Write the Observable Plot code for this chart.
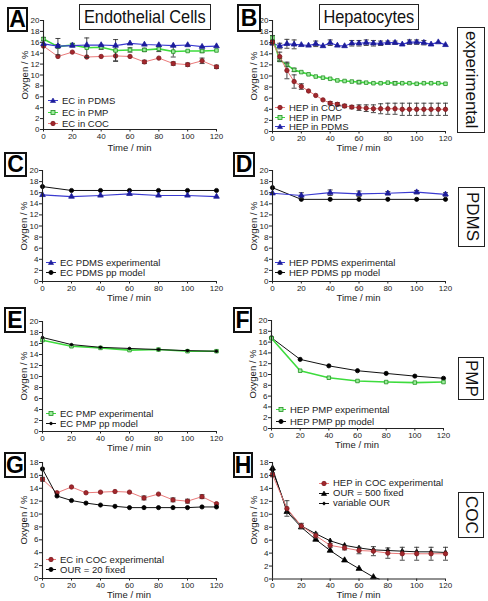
<!DOCTYPE html>
<html><head><meta charset="utf-8">
<script src="https://cdn.jsdelivr.net/npm/d3@7"></script>
<script src="https://cdn.jsdelivr.net/npm/@observablehq/plot@0.6"></script>
<style>
html,body{margin:0;padding:0;background:#fff;}
body{font-family:"Liberation Sans",Arial,Helvetica,sans-serif;color:#222;}
#root{position:relative;width:488px;height:601px;overflow:hidden;background:#fff;}
.letter{position:absolute;box-sizing:border-box;border:2px solid #111;font-weight:bold;font-size:23px;display:flex;align-items:center;justify-content:center;line-height:1;color:#000;}
.title{position:absolute;box-sizing:border-box;border:1.5px solid #222;font-size:19px;display:flex;align-items:center;justify-content:center;white-space:nowrap;color:#111;}
.title span{display:inline-block;transform:scaleX(0.86);}
.vtitle{position:absolute;box-sizing:border-box;border:1.5px solid #222;font-size:17px;display:flex;align-items:center;justify-content:center;white-space:nowrap;writing-mode:vertical-rl;color:#111;}
.axt{position:absolute;font-size:9.5px;line-height:1;white-space:nowrap;color:#222;transform:translate(-50%,-50%);}
.axt.rot{transform:translate(-50%,-50%) rotate(-90deg);}
.leg{position:absolute;font-size:9.5px;white-space:nowrap;color:#222;line-height:1;}
.leg div{display:flex;align-items:center;}
.leg svg{margin-right:3px;}
</style>
</head><body><div id="root"></div>
<script>
// ---------------- DATA ----------------
// Panel A (Endothelial cells, experimental)
const tA = [0,10,20,30,40,50,60,70,80,90,100,110,120];
const ecPDMS = [15.7,15.3,15.4,15.5,15.5,15.4,15.8,15.6,15.5,15.4,15.5,15.2,15.3];
const ecPDMSerr = [0.2,0.3,0.2,0.2,0.2,0.2,0.2,0.2,0.2,0.2,0.2,0.2,0.2];
const ecPMP = [16.6,15.2,15.5,15.0,15.1,14.5,14.6,14.6,14.8,14.3,14.4,14.4,14.5];
const ecPMPerr = [0.3,1.5,0.3,1.8,0.4,2.0,0.4,0.3,0.5,1.0,0.2,0.3,0.2];
const ecCOC = [15.3,13.4,14.2,13.3,13.4,13.5,13.4,12.4,13.1,12.1,11.9,12.6,11.5];
const ecCOCerr = [0.2,0.2,0.2,0.2,0.2,0.9,0.2,0.3,0.2,0.3,0.3,0.5,0.3];

// Panel B (Hepatocytes, experimental)
const tB = [0,5,10,15,20,25,30,35,40,45,50,55,60,65,70,75,80,85,90,95,100,105,110,115,120];
const hepCOC = [16.1,13.5,11.0,9.0,8.1,7.3,6.5,5.7,5.1,4.9,4.6,4.4,4.3,4.2,4.1,4.1,4.1,4.1,4.0,4.0,4.0,4.0,4.0,4.0,4.0];
const hepCOCerr = [0.3,0.8,1.5,1.2,0.5,0.2,0.2,0.2,0.3,0.3,0.3,0.3,0.5,0.6,0.7,0.9,1.0,1.0,1.1,1.1,1.1,1.1,1.1,1.1,1.1];
const hepPMP = [16.9,12.9,12.0,11.1,10.7,10.3,9.9,9.7,9.5,9.2,9.1,9.0,8.9,8.8,8.7,8.7,8.8,8.7,8.7,8.7,8.6,8.7,8.7,8.7,8.6];
const hepPMPerr = [0.4,0.3,0.3,0.3,0.2,0.2,0.2,0.2,0.2,0.2,0.2,0.2,0.3,0.2,0.2,0.2,0.2,0.3,0.2,0.2,0.2,0.2,0.2,0.2,0.2];
const hepPDMS = [15.9,15.4,15.8,15.7,15.6,15.5,15.8,15.4,16.0,15.5,15.4,15.9,15.9,16.0,15.9,15.9,16.0,16.0,15.7,16.1,16.1,16.0,15.7,16.1,15.6];
const hepPDMSerr = [0.3,0.5,0.8,0.8,0.2,0.2,0.5,0.2,0.5,0.2,0.2,0.5,0.5,0.5,0.5,0.4,0.3,0.3,0.2,0.4,0.4,0.4,0.2,0.2,0.2];

// Model comparison panels (C-F), 20-min steps
const tM = [0,20,40,60,80,100,120];
const cExp = [15.6,15.3,15.5,15.8,15.5,15.5,15.3];
const cModel = [17.1,16.4,16.4,16.4,16.4,16.4,16.4];
const dExp = [15.9,15.5,16.0,15.8,15.9,16.1,15.7];
const dExpErr = [0.2,0.5,0.5,0.5,0.3,0.3,0.3];
const dModel = [16.9,14.8,14.8,14.8,14.8,14.8,14.8];
const eExp = [16.6,15.5,15.2,14.8,14.9,14.6,14.6];
const eModel = [17.1,15.8,15.3,15.1,14.9,14.7,14.6];
const fExp = [16.7,10.7,9.4,8.8,8.6,8.5,8.6];
const fModel = [16.8,12.8,11.6,10.7,10.2,9.7,9.3];

// Panel G (EC in COC)
const gExp = [15.4,13.3,14.2,13.3,13.4,13.5,13.4,12.5,13.1,12.2,12.0,12.7,11.6];
const gExpErr = [0.3,0.2,0.2,0.2,0.2,0.2,0.2,0.3,0.2,0.3,0.3,0.3,0.2];
const gModel = [17.0,12.8,12.1,11.7,11.4,11.2,11.0,11.0,11.0,11.0,11.0,11.1,11.1];

// Panel H (HEP in COC)
const hExp = [16.1,10.9,8.2,6.7,5.2,4.8,4.4,4.3,4.0,3.9,3.9,3.9,3.9];
const hExpErr = [0.3,1.2,0.4,0.4,0.3,0.3,0.5,0.7,0.8,1.0,1.0,1.0,1.0];
const tFixed = [0,10,20,30,40,50,60,70,74];
const hFixed = [17.1,10.4,8.0,6.1,4.4,2.9,1.6,0.3,0];
const hVar = [16.8,10.7,8.2,7.0,5.9,5.2,4.8,4.5,4.4,4.3,4.2,4.2,4.1];

const xTicks = [0,20,40,60,80,100,120];

// ---------------- STYLES ----------------
const ST = {
  blue:  {line:"#3a3ad0", lw:1.2, sym:"triangle", r:2.1, fill:"#1c1c9a", stroke:"#1c1c9a"},
  green: {line:"#3ddc3d", lw:1.6, sym:"square", r:2.0, fill:"#9fee9f", stroke:"#1f8f1f"},
  red:   {line:"#ea7a7a", lw:1.0, sym:"circle", r:2.2, fill:"#a3272c", stroke:"#7d1a1f"},
  black: {line:"#111", lw:1.0, sym:"circle", r:2.1, fill:"#000", stroke:"#000"},
  blackSmall: {line:"#111", lw:1.0, sym:"circle", r:1.3, fill:"#000", stroke:"#000"},
  blackTri: {line:"#111", lw:1.0, sym:"triangle", r:2.2, fill:"#000", stroke:"#000"},
  blackDia: {line:"#111", lw:1.0, sym:"diamond", r:1.7, fill:"#000", stroke:"#000"}
};

const capSym = {draw(ctx){ ctx.moveTo(-2.5,0); ctx.lineTo(2.5,0); }};

const root = document.getElementById("root");

function panel(cfg){
  const mL=40, mR=12, mT=6, mB=26;
  const w = mL + (cfg.x1-cfg.x0) + mR;
  const h = mT + (cfg.yb-cfg.yt) + mB;
  const marks = [];
  for (const s of cfg.series){
    const st = ST[s.style];
    const data = s.t.map((t,i)=>({t, v:s.v[i], e: s.e ? s.e[i] : 0}));
    marks.push(Plot.line(data,{x:"t",y:"v",stroke:st.line,strokeWidth:st.lw}));
    if (s.e){
      const eb = data.filter(d=>d.e>=0.25);
      marks.push(Plot.ruleX(eb,{x:"t",y1:d=>d.v-d.e,y2:d=>d.v+d.e,stroke:"#333",strokeWidth:0.9}));
      marks.push(Plot.dot(eb,{x:"t",y:d=>d.v+d.e,symbol:capSym,stroke:"#333",strokeWidth:0.9}));
      marks.push(Plot.dot(eb,{x:"t",y:d=>d.v-d.e,symbol:capSym,stroke:"#333",strokeWidth:0.9}));
    }
    const md = s.markEvery ? data.filter(d=>d.t % s.markEvery === 0) : data;
    marks.push(Plot.dot(md,{x:"t",y:"v",symbol:st.sym,r:st.r,fill:st.fill,stroke:st.stroke,strokeWidth:0.8}));
  }
  marks.push(Plot.ruleY([0],{stroke:"#222",strokeWidth:1.1}));
  marks.push(Plot.ruleX([0],{stroke:"#222",strokeWidth:1.1}));
  marks.push(Plot.axisY({ticks:d3.range(0,cfg.ymax+1,2),tickSize:3,tickPadding:1,fontSize:8,label:null,stroke:"#222"}));
  marks.push(Plot.axisX({ticks:xTicks,tickSize:2.5,tickPadding:1,fontSize:8,label:null,stroke:"#222"}));
  const svg = Plot.plot({
    width:w, height:h, marginLeft:mL, marginRight:mR, marginTop:mT, marginBottom:mB,
    x:{domain:[0,120]}, y:{domain:[0,cfg.ymax]},
    style:{fontFamily:"'Liberation Sans',Arial,sans-serif",color:"#222",background:"transparent",overflow:"visible"},
    marks
  });
  svg.style.position="absolute";
  svg.style.left=(cfg.x0-mL)+"px";
  svg.style.top=(cfg.yt-mT)+"px";
  root.appendChild(svg);
  // axis titles
  const yl=document.createElement("div"); yl.className="axt rot"; yl.textContent="Oxygen / %";
  yl.style.left=(cfg.x0-18)+"px"; yl.style.top=((cfg.yt+cfg.yb)/2)+"px"; root.appendChild(yl);
  const xl=document.createElement("div"); xl.className="axt"; xl.textContent="Time / min";
  xl.style.left=((cfg.x0+cfg.x1)/2)+"px"; xl.style.top=(cfg.yb+cfg.xlab)+"px"; root.appendChild(xl);
  // legend
  const lg=document.createElement("div"); lg.className="leg";
  lg.style.left=cfg.leg[0]+"px"; lg.style.top=cfg.leg[1]+"px";
  for (const it of cfg.legend){
    const st=ST[it.style];
    const row=document.createElement("div");
    row.style.height=cfg.legStep+"px";
    row.innerHTML = symSvg(st) + "<span>"+it.label+"</span>";
    lg.appendChild(row);
  }
  root.appendChild(lg);
}

function symSvg(st){
  let m="";
  if (st.sym==="circle") m=`<circle cx="6" cy="4.5" r="${st.r}" fill="${st.fill}" stroke="${st.stroke}" stroke-width="0.8"/>`;
  else if (st.sym==="square") m=`<rect x="${6-st.r}" y="${4.5-st.r}" width="${2*st.r}" height="${2*st.r}" fill="${st.fill}" stroke="${st.stroke}" stroke-width="0.8"/>`;
  else if (st.sym==="triangle") m=`<path d="M6,2 L8.6,6.5 L3.4,6.5Z" fill="${st.fill}" stroke="${st.stroke}" stroke-width="0.6"/>`;
  else m=`<path d="M6,2.5 L8,4.5 L6,6.5 L4,4.5Z" fill="${st.fill}"/>`;
  return `<svg width="12" height="9" viewBox="0 0 12 9"><line x1="1" y1="4.5" x2="11" y2="4.5" stroke="${st.line}" stroke-width="1"/>${m}</svg>`;
}

const panels = [
  {x0:43,x1:216,yt:20,yb:129,ymax:20,xlab:19,leg:[47,95],legStep:11.5,
   series:[{t:tA,v:ecCOC,e:ecCOCerr,style:"red"},{t:tA,v:ecPMP,e:ecPMPerr,style:"green"},{t:tA,v:ecPDMS,e:ecPDMSerr,style:"blue"}],
   legend:[{label:"EC in PDMS",style:"blue"},{label:"EC in PMP",style:"green"},{label:"EC in COC",style:"red"}]},
  {x0:272,x1:445,yt:20,yb:131,ymax:20,xlab:17,leg:[274,103],legStep:9.5,
   series:[{t:tB,v:hepPDMS,e:hepPDMSerr,style:"blue"},{t:tB,v:hepPMP,e:hepPMPerr,style:"green"},{t:tB,v:hepCOC,e:hepCOCerr,style:"red"}],
   legend:[{label:"HEP in COC",style:"red"},{label:"HEP in PMP",style:"green"},{label:"HEP in PDMS",style:"blue"}]},
  {x0:42,x1:216,yt:170,yb:281,ymax:20,xlab:17,leg:[45,257],legStep:10.5,
   series:[{t:tM,v:cModel,style:"black"},{t:tM,v:cExp,style:"blue"}],
   legend:[{label:"EC PDMS experimental",style:"blue"},{label:"EC PDMS pp model",style:"black"}]},
  {x0:272,x1:445,yt:170,yb:281,ymax:20,xlab:17,leg:[274,257],legStep:10.5,
   series:[{t:tM,v:dModel,style:"black"},{t:tM,v:dExp,e:dExpErr,style:"blue"}],
   legend:[{label:"HEP PDMS experimental",style:"blue"},{label:"HEP PDMS pp model",style:"black"}]},
  {x0:42,x1:216,yt:321,yb:431,ymax:20,xlab:17,leg:[45,408],legStep:10.5,
   series:[{t:tM,v:eExp,style:"green"},{t:tM,v:eModel,style:"blackSmall"}],
   legend:[{label:"EC PMP experimental",style:"green"},{label:"EC PMP pp model",style:"blackSmall"}]},
  {x0:271,x1:443,yt:320,yb:428,ymax:20,xlab:17,leg:[275,404],legStep:11.5,
   series:[{t:tM,v:fModel,style:"black"},{t:tM,v:fExp,style:"green"}],
   legend:[{label:"HEP PMP experimental",style:"green"},{label:"HEP PMP pp model",style:"black"}]},
  {x0:42,x1:216,yt:462,yb:578,ymax:18,xlab:16.5,leg:[45,555],legStep:9.5,
   series:[{t:tA,v:gExp,e:gExpErr,style:"red"},{t:tA,v:gModel,style:"black"}],
   legend:[{label:"EC in COC experimental",style:"red"},{label:"OUR = 20 fixed",style:"black"}]},
  {x0:272,x1:445,yt:462,yb:578.5,ymax:18,xlab:16.5,leg:[318,478],legStep:10,
   series:[{t:tFixed,v:hFixed,style:"blackTri",markEvery:10},{t:tA,v:hVar,style:"blackDia"},{t:tA,v:hExp,e:hExpErr,style:"red"}],
   legend:[{label:"HEP in COC experimental",style:"red"},{label:"OUR = 500 fixed",style:"blackTri"},{label:"variable OUR",style:"blackDia"}]}
];
panels.forEach(panel);

// letter boxes
const letters = [["A",7,7,21,25],["B",237,4,24,28],["C",4,152,23,25],["D",233,152,22,25],
                 ["E",4,307,22,26],["F",233,307,19,26],["G",4,452,22,26],["H",233,452,20,26]];
for (const [t,x,y,w,h] of letters){
  const d=document.createElement("div"); d.className="letter"; d.textContent=t;
  Object.assign(d.style,{left:x+"px",top:y+"px",width:w+"px",height:h+"px"}); root.appendChild(d);
}
const titles = [["Endothelial Cells",79,4,132,26],["Hepatocytes",319,4,100,26]];
for (const [t,x,y,w,h] of titles){
  const d=document.createElement("div"); d.className="title"; d.innerHTML="<span>"+t+"</span>";
  Object.assign(d.style,{left:x+"px",top:y+"px",width:w+"px",height:h+"px"}); root.appendChild(d);
}
const vtitles = [["experimental",457,27,28,106],["PDMS",458,187,27,60],["PMP",458,357,26,43],["COC",458,492,26,46]];
for (const [t,x,y,w,h] of vtitles){
  const d=document.createElement("div"); d.className="vtitle"; d.textContent=t;
  Object.assign(d.style,{left:x+"px",top:y+"px",width:w+"px",height:h+"px"}); root.appendChild(d);
}
</script></body></html>
